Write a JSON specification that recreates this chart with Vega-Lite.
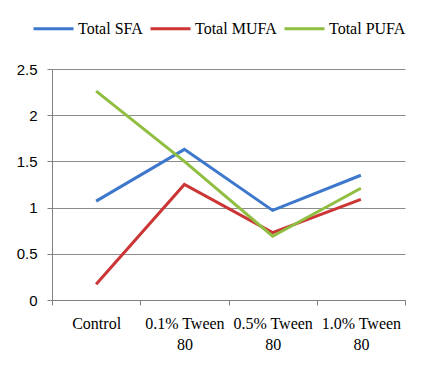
{
  "$schema": "https://vega.github.io/schema/vega-lite/v6.json",
  "width": 353,
  "height": 231,
  "autosize": {"type": "none"},
  "padding": {"left": 52, "top": 69, "right": 26, "bottom": 65},
  "background": "white",
  "data": {
    "values": [
      {"group": "Control", "series": "Total SFA", "value": 1.07},
      {"group": "0.1% Tween 80", "series": "Total SFA", "value": 1.63},
      {"group": "0.5% Tween 80", "series": "Total SFA", "value": 0.97},
      {"group": "1.0% Tween 80", "series": "Total SFA", "value": 1.35},
      {"group": "Control", "series": "Total MUFA", "value": 0.17},
      {"group": "0.1% Tween 80", "series": "Total MUFA", "value": 1.25},
      {"group": "0.5% Tween 80", "series": "Total MUFA", "value": 0.73},
      {"group": "1.0% Tween 80", "series": "Total MUFA", "value": 1.09},
      {"group": "Control", "series": "Total PUFA", "value": 2.26},
      {"group": "0.1% Tween 80", "series": "Total PUFA", "value": 1.5},
      {"group": "0.5% Tween 80", "series": "Total PUFA", "value": 0.69},
      {"group": "1.0% Tween 80", "series": "Total PUFA", "value": 1.21}
    ]
  },
  "mark": {"type": "line", "strokeWidth": 3},
  "encoding": {
    "x": {
      "field": "group",
      "type": "nominal",
      "sort": null,
      "scale": {"type": "band", "paddingInner": 0, "paddingOuter": 0},
      "axis": {
        "title": null,
        "labelAngle": 0,
        "tickBand": "extent",
        "labelFont": "Liberation Serif",
        "labelFontSize": 16,
        "labelColor": "black",
        "labelBaseline": "top",
        "labelPadding": 10,
        "labelLineHeight": 21,
        "labelExpr": "indexof(datum.label, ' 80') > 0 ? [substring(datum.label, 0, indexof(datum.label, ' 80')), '80'] : datum.label",
        "domainColor": "#808080",
        "tickColor": "#808080",
        "tickSize": 5,
        "grid": false
      }
    },
    "y": {
      "field": "value",
      "type": "quantitative",
      "scale": {"domain": [0, 2.5]},
      "axis": {
        "title": null,
        "values": [0, 0.5, 1, 1.5, 2, 2.5],
        "format": "~g",
        "labelFont": "Liberation Sans",
        "labelFontSize": 15,
        "labelColor": "black",
        "labelPadding": 10,
        "domainColor": "#808080",
        "tickColor": "#808080",
        "tickSize": 5,
        "gridColor": "#8c8c8c",
        "gridOpacity": 1
      }
    },
    "color": {
      "field": "series",
      "type": "nominal",
      "sort": ["Total SFA", "Total MUFA", "Total PUFA"],
      "scale": {
        "domain": ["Total SFA", "Total MUFA", "Total PUFA"],
        "range": ["#3D78CC", "#CC3535", "#8FBE40"]
      },
      "legend": {
        "title": null,
        "orient": "none",
        "direction": "horizontal",
        "legendX": -20,
        "legendY": -62,
        "symbolType": "stroke",
        "symbolSize": 1600,
        "symbolStrokeWidth": 3,
        "labelFont": "Liberation Serif",
        "labelFontSize": 16,
        "labelColor": "black",
        "labelOffset": 3,
        "columnPadding": 1
      }
    }
  },
  "config": {"view": {"stroke": null}}
}
